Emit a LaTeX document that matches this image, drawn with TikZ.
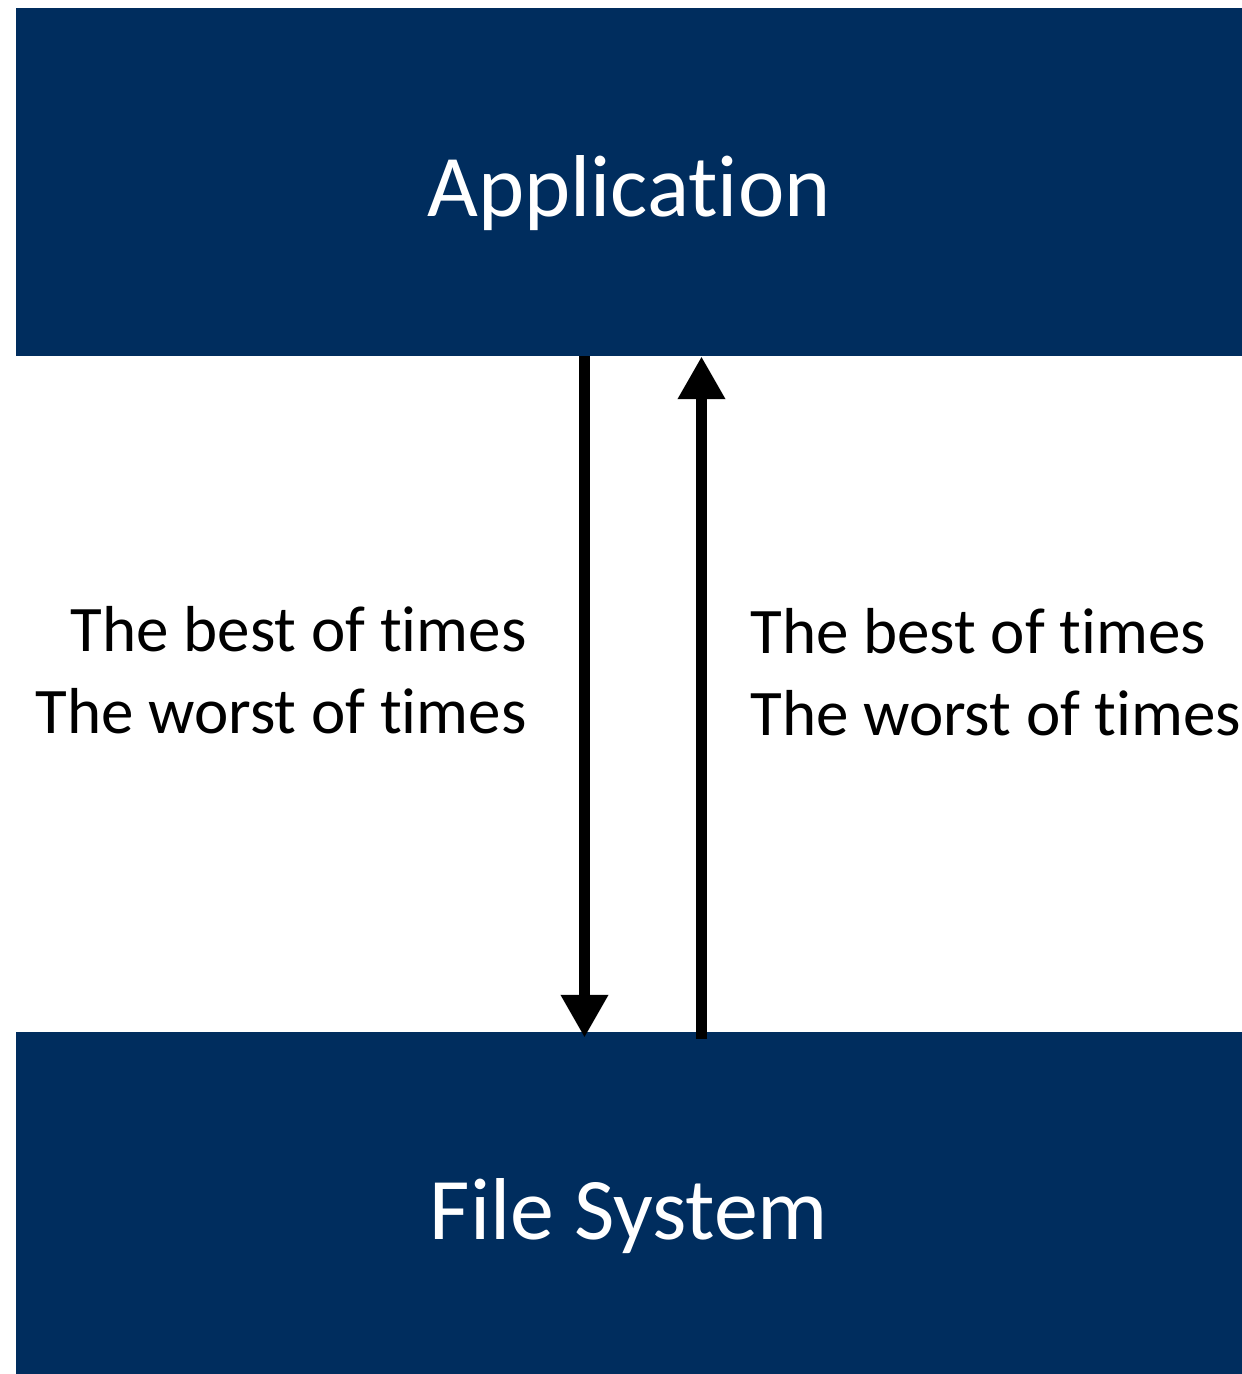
\documentclass[tikz,border=0pt]{standalone}
\usepackage{fontspec}
\setmainfont[Ligatures=NoCommon]{Carlito}
\usetikzlibrary{arrows.meta}

\definecolor{navy}{RGB}{0,45,94}

\begin{document}
\begin{tikzpicture}[x=0.02cm,y=-0.02cm]
	\begin{scope}
\useasboundingbox (0,0) rectangle (1242,1374);
\tikzset{
  layer/.style={fill=navy, minimum width=1226*0.02cm, inner sep=0pt,
    text=white, font=\fontsize{50}{60}\selectfont, text depth=0pt},
  flow/.style={line width=6.2pt, -{Triangle[width=25.5pt,length=24.4pt]}},
  says/.style={font=\fontsize{37}{46.5}\selectfont, inner sep=0pt}
}
\node [layer, minimum height=348*0.02cm, text height=68*0.02cm] (app) at (629,182) {Application};
\node [layer, minimum height=342*0.02cm, text height=72*0.02cm] (fs) at (629,1203) {File System};

\draw[flow] ([xshift=-44.5*0.02cm]app.south) -- ([xshift=-44.5*0.02cm, yshift=-6*0.02cm]fs.north);
\draw[flow] ([xshift=72.5*0.02cm, yshift=-7*0.02cm]fs.north) -- ([xshift=72.5*0.02cm]app.south);

% base = baseline of the last line
\node [says, anchor=base east, align=right] (reads) at (527,733) {The best of times\\The worst of times};
\node [says, anchor=base west, align=left] (writes) at (750,735) {The best of times\\The worst of times};
	\end{scope}
\end{tikzpicture}
\end{document}
